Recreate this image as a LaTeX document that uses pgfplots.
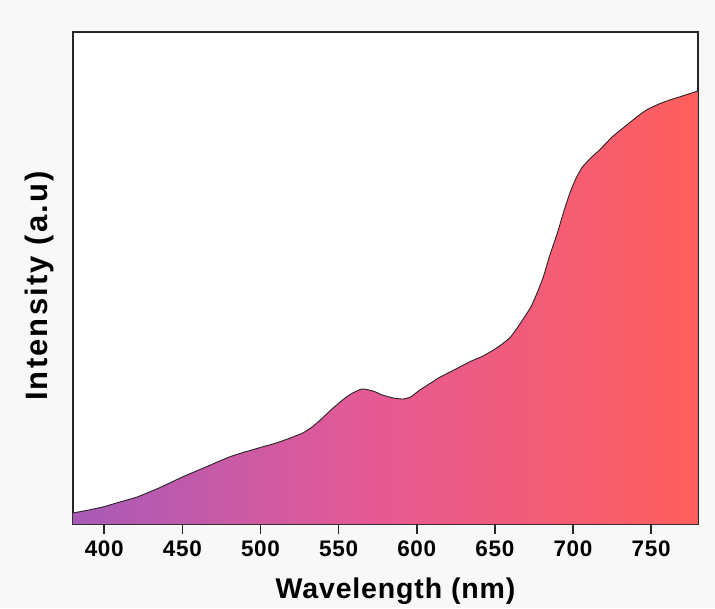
\documentclass[border=0pt]{standalone}
\usepackage{fontspec}
\setmainfont{Liberation Sans}
\newfontfamily\lblfont[LetterSpace=3]{Liberation Sans}
\newfontfamily\ylblfont[LetterSpace=7]{Liberation Sans}
\newfontfamily\tickfont[LetterSpace=3]{Liberation Sans}
\usepackage{pgfplots}
\pgfplotsset{compat=1.18}
\definecolor{cleft}{RGB}{168,90,184}
\definecolor{cmid}{RGB}{228,90,150}
\definecolor{cright}{RGB}{255,95,92}
\definecolor{bg}{RGB}{248,248,248}
\pgfdeclarehorizontalshading{specshade}{100bp}{color(0bp)=(cleft); color(25bp)=(cleft); color(48bp)=(cmid); color(75bp)=(cright); color(100bp)=(cright)}
\pgfplotstableread{
x y
380 11
390 14
399 17
410 22
421 27
435 36
450 47
465 57
480 67
490 72
501 77
510 81
519 86
527 91
533 97
539 105
545 114
551 122
555 127
559 131
565 135
572 133
578 129
585 126
591 125
596 127
602 134
610 142
615 147
620 151
625 155
630 159
635 163
641 167
647 172
653 178
660 187
666 200
673 217
677 231
681 247
685 268
690 291
694 312
698 331
702 346
706 357
712 367
717 374
725 387
732 396
740 406
747 414
755 420
762 424
770 428
780 433
}\spectrum
\begin{document}
\begin{tikzpicture}
\fill[bg] (-73pt,-84pt) rectangle (642pt,524pt);
\begin{axis}[
  scale only axis,
  width=625pt, height=492pt,
  xmin=380, xmax=780, ymin=0, ymax=492,
  xtick={400,450,...,750},
  ytick=\empty,
  xtick pos=bottom,
  tick align=outside,
  major tick length=10pt,
  axis line style={line width=1.6pt, black!85},
  every tick/.style={line width=1.6pt, black!85},
  axis background/.style={fill=white},
  /pgf/number format/assume math mode=true,
  xticklabel style={font=\fontsize{22.5}{24}\tickfont\bfseries, yshift=-3pt},
  xlabel={Wavelength (nm)},
  ylabel={Intensity (a.u)},
  xlabel style={font=\fontsize{28.5}{30}\lblfont\bfseries, yshift=-15pt, xshift=10pt},
  ylabel style={font=\fontsize{31}{33}\ylblfont\bfseries, yshift=6pt, xshift=-8pt},
  clip=true,
]
\addplot[draw=none, shading=specshade, smooth, tension=0.35] table[x=x,y=y] {\spectrum} \closedcycle;
\addplot[black!85, line width=0.9pt, smooth, tension=0.35] table[x=x,y=y] {\spectrum};
\end{axis}
\useasboundingbox (-73pt,-84pt) rectangle (642pt,524pt);
\end{tikzpicture}
\end{document}
